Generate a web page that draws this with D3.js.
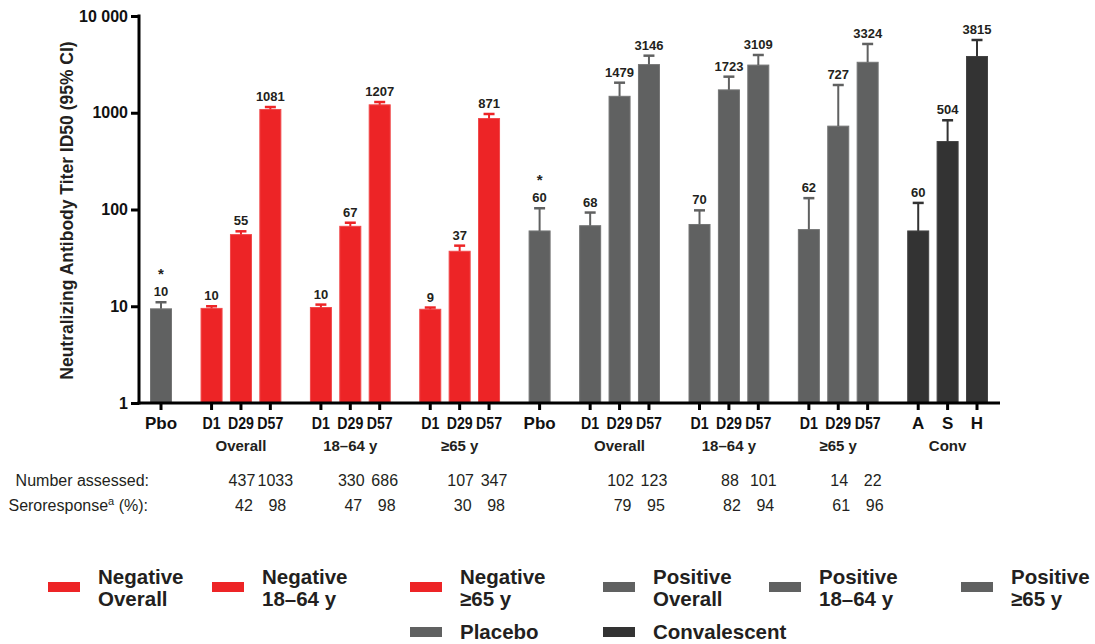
<!DOCTYPE html>
<html>
<head>
<meta charset="utf-8">
<script src="https://cdn.jsdelivr.net/npm/d3@7/dist/d3.min.js"></script>
<style>
  html, body { margin: 0; padding: 0; background: #fff; }
  svg text { font-family: "Liberation Sans", Arial, Helvetica, sans-serif; }
</style>
</head>
<body>
<svg id="chart" width="1095" height="644"></svg>
<script>
// ---------------- DATA ----------------
const categories = ["Pbo","D1","D29","D57","D1","D29","D57","D1","D29","D57",
                    "Pbo","D1","D29","D57","D1","D29","D57","D1","D29","D57",
                    "A","S","H"];
const groupOf    = [0,1,1,1,2,2,2,3,3,3,4,5,5,5,6,6,6,7,7,7,8,8,8];
const groupLabels = ["","Overall","18–64 y","≥65 y","","Overall","18–64 y","≥65 y","Conv"];
const seriesOf   = ["Placebo","Negative Overall","Negative Overall","Negative Overall",
                    "Negative 18–64 y","Negative 18–64 y","Negative 18–64 y",
                    "Negative ≥65 y","Negative ≥65 y","Negative ≥65 y",
                    "Placebo","Positive Overall","Positive Overall","Positive Overall",
                    "Positive 18–64 y","Positive 18–64 y","Positive 18–64 y",
                    "Positive ≥65 y","Positive ≥65 y","Positive ≥65 y",
                    "Convalescent","Convalescent","Convalescent"];
// geometric mean titers (bar heights) and upper 95% CI
const gmt     = [9.4, 9.5, 55, 1081, 9.7, 67, 1207, 9.3, 37, 871,
                 60, 68, 1479, 3146, 70, 1723, 3109, 62, 727, 3324,
                 60, 504, 3815];
const upperCI = [11.0, 10.0, 59.5, 1146, 10.4, 73, 1291, 9.7, 42.3, 971,
                 103, 93, 2045, 3890, 98, 2360, 3954, 131, 1936, 5140,
                 117, 836, 5650];
const barLabels = ["10","10","55","1081","10","67","1207","9","37","871",
                   "60","68","1479","3146","70","1723","3109","62","727","3324",
                   "60","504","3815"];
const starred = [0, 10];
const yTicks = [1, 10, 100, 1000, 10000];
const yTickLabels = ["1","10","100","1000","10 000"];

// table below the axis (D29 and D57 columns, for the six vaccine groups)
const tableGroups   = [1, 2, 3, 5, 6, 7];
const assessedD29   = [437, 330, 107, 102, 88, 14];
const assessedD57   = [1033, 686, 347, 123, 101, 22];
const seroD29       = [42, 47, 30, 79, 82, 61];
const seroD57       = [98, 98, 98, 95, 94, 96];

const legendSeries = ["Negative Overall","Negative 18–64 y","Negative ≥65 y",
                      "Positive Overall","Positive 18–64 y","Positive ≥65 y",
                      "Placebo","Convalescent"];

// ---------------- STYLE / LAYOUT ----------------
const RED = "#ED2426", GREY = "#606161", DARK = "#333333";
const colorOf = s => s.startsWith("Negative") ? RED : (s === "Convalescent" ? DARK : GREY);
const strokeOf = s => s.startsWith("Negative") ? "#F0484A" : (s === "Convalescent" ? "#444" : "#747575");
const TXT = "#231f20";

const svg = d3.select("#chart");
const axisX0 = 139, axisX1 = 1000, yTop = 16, yBot = 403;
const GAP = 0.72;
const slot = categories.map((c, i) => i + GAP * groupOf[i]);
const x = d3.scaleLinear().domain([0, d3.max(slot)]).range([161, 977]);
const y = d3.scaleLog().domain([1, 10000]).range([yBot, yTop]);
const barW = 21;

// ---------------- BARS ----------------
const bars = svg.append("g");
bars.selectAll("rect").data(categories).join("rect")
  .attr("x", (d, i) => x(slot[i]) - barW / 2)
  .attr("y", (d, i) => y(gmt[i]))
  .attr("width", barW)
  .attr("height", (d, i) => y(1) - y(gmt[i]))
  .attr("fill", (d, i) => colorOf(seriesOf[i]))
  .attr("stroke", (d, i) => strokeOf(seriesOf[i]))
  .attr("stroke-width", 1);

// error bars (upper only)
const err = svg.append("g");
categories.forEach((c, i) => {
  const cx = x(slot[i]);
  const col = colorOf(seriesOf[i]);
  err.append("line").attr("x1", cx).attr("x2", cx)
    .attr("y1", y(gmt[i])).attr("y2", y(upperCI[i]))
    .attr("stroke", col).attr("stroke-width", 2);
  err.append("line").attr("x1", cx - 5.5).attr("x2", cx + 5.5)
    .attr("y1", y(upperCI[i])).attr("y2", y(upperCI[i]))
    .attr("stroke", col).attr("stroke-width", 2.5);
});

// value labels
const lab = svg.append("g").attr("font-weight", "bold")
  .attr("fill", TXT).attr("text-anchor", "middle");
categories.forEach((c, i) => {
  const ly = y(upperCI[i]) - 6;
  lab.append("text").attr("x", x(slot[i])).attr("y", ly).attr("font-size", 13).text(barLabels[i]);
  if (starred.includes(i)) {
    lab.append("text").attr("x", x(slot[i])).attr("y", ly - 17).attr("font-size", 15).text("*");
  }
});

// ---------------- AXES ----------------
const yAxis = d3.axisLeft(y).tickValues(yTicks)
  .tickFormat((d, i) => yTickLabels[i]).tickSize(8).tickPadding(3);
const gy = svg.append("g").attr("transform", `translate(${axisX0},0)`).call(yAxis);
gy.select(".domain").remove();
gy.selectAll(".tick line").attr("stroke", "#000").attr("stroke-width", 3);
gy.selectAll(".tick text").attr("font-size", 16).attr("font-weight", "bold")
  .attr("fill", "#111").attr("font-family", "Liberation Sans, Arial, sans-serif");

svg.append("line").attr("x1", axisX0).attr("x2", axisX0)
  .attr("y1", yTop - 1.5).attr("y2", yBot + 1.5)
  .attr("stroke", "#000").attr("stroke-width", 3);
svg.append("line").attr("x1", axisX0 - 1.5).attr("x2", axisX1)
  .attr("y1", yBot).attr("y2", yBot)
  .attr("stroke", "#000").attr("stroke-width", 3);

// x ticks & labels
const gx = svg.append("g");
categories.forEach((c, i) => {
  const cx = x(slot[i]);
  gx.append("line").attr("x1", cx).attr("x2", cx).attr("y1", yBot).attr("y2", yBot + 7)
    .attr("stroke", "#000").attr("stroke-width", 3);
  const narrow = c.startsWith("D");
  gx.append("text")
    .attr("transform", `translate(${cx},429) scale(${narrow ? 0.86 : 1},1)`)
    .attr("text-anchor", "middle")
    .attr("font-size", narrow ? 16.5 : 17).attr("font-weight", "bold").attr("fill", "#111").text(c);
});
// group labels (centered on middle member of each group)
groupLabels.forEach((g, gi) => {
  if (!g) return;
  const idx = groupOf.map((v, i) => v === gi ? i : -1).filter(v => v >= 0);
  const cx = d3.mean(idx, i => x(slot[i]));
  svg.append("text").attr("x", cx).attr("y", 451).attr("text-anchor", "middle")
    .attr("font-size", 15).attr("font-weight", "bold").attr("fill", TXT).text(g);
});

// y axis title
svg.append("text")
  .attr("transform", `translate(73,${(yTop + yBot) / 2 + 1}) rotate(-90)`)
  .attr("text-anchor", "middle").attr("font-size", 17.5).attr("font-weight", "bold")
  .attr("fill", TXT).text("Neutralizing Antibody Titer ID50 (95% CI)");

// ---------------- TABLE ----------------
const tbl = svg.append("g").attr("font-size", 16).attr("fill", TXT);
tbl.append("text").attr("x", 149).attr("y", 485.5).attr("text-anchor", "end").text("Number assessed:");
const sr = tbl.append("text").attr("x", 148).attr("y", 510.5).attr("text-anchor", "end");
sr.append("tspan").text("Seroresponse");
sr.append("tspan").attr("font-size", 11).attr("dy", -6).text("a");
sr.append("tspan").attr("dy", 6).text(" (%):");
tableGroups.forEach((g, k) => {
  const idx = groupOf.map((v, i) => v === g ? i : -1).filter(v => v >= 0);
  const xD29 = x(slot[idx[1]]), xD57 = x(slot[idx[2]]);
  tbl.append("text").attr("x", xD29 + 1).attr("y", 485.5).attr("text-anchor", "middle").text(assessedD29[k]);
  tbl.append("text").attr("x", xD57 + 5).attr("y", 485.5).attr("text-anchor", "middle").text(assessedD57[k]);
  tbl.append("text").attr("x", xD29 + 3).attr("y", 510.5).attr("text-anchor", "middle").text(seroD29[k]);
  tbl.append("text").attr("x", xD57 + 7).attr("y", 510.5).attr("text-anchor", "middle").text(seroD57[k]);
});

// ---------------- LEGEND ----------------
const legendPos = [[48,587],[212,587],[410,587],[603,587],[769,587],[961,587],[410,632],[603,632]];
const lg = svg.append("g");
legendSeries.forEach((s, k) => {
  const [lx, ly] = legendPos[k];
  lg.append("rect").attr("x", lx).attr("y", ly - 5).attr("width", 32).attr("height", 10)
    .attr("fill", colorOf(s));
  const parts = (s === "Placebo" || s === "Convalescent") ? [s] : [s.split(" ")[0], s.split(" ").slice(1).join(" ")];
  const t = lg.append("text").attr("font-size", 20.5).attr("font-weight", "bold").attr("fill", TXT);
  const tx = lx + 50;
  if (parts.length === 2) {
    t.append("tspan").attr("x", tx).attr("y", ly - 2.7).text(parts[0]);
    t.append("tspan").attr("x", tx).attr("y", ly + 19.3).text(parts[1]);
  } else {
    t.append("tspan").attr("x", tx).attr("y", ly + 6.5).text(parts[0]);
  }
});
</script>
</body>
</html>
